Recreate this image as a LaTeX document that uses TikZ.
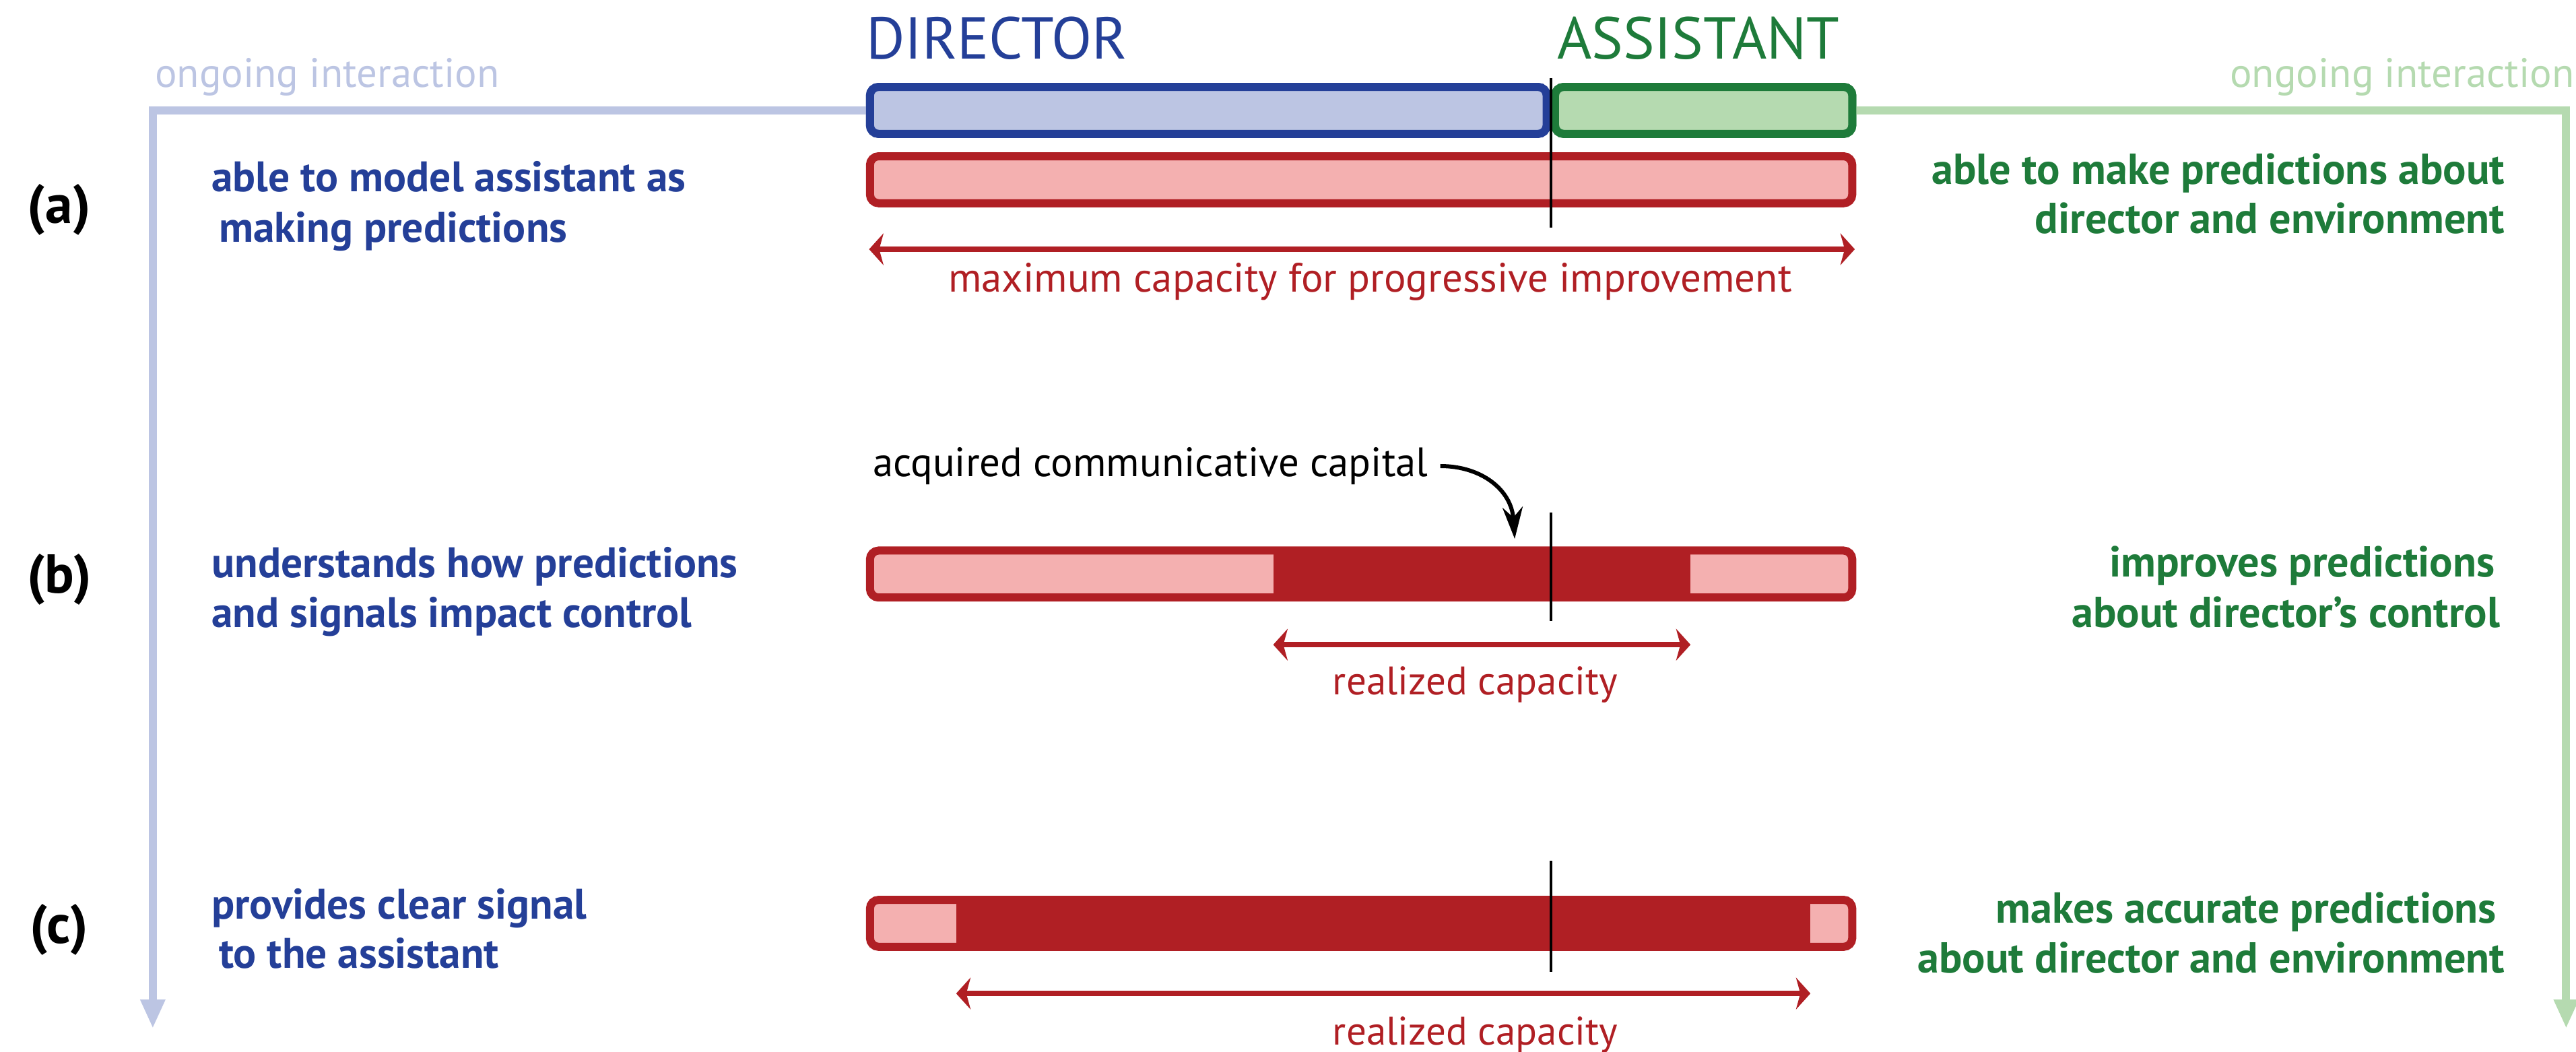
\documentclass[tikz,border=0pt]{standalone}
\usepackage{fontspec}
\setmainfont{PT Sans}
\usetikzlibrary{arrows.meta}
\definecolor{dblue}{RGB}{36,63,152}
\definecolor{lblue}{RGB}{188,197,227}
\definecolor{dgreen}{RGB}{30,123,58}
\definecolor{lgreen}{RGB}{181,218,176}
\definecolor{dred}{RGB}{176,31,36}
\definecolor{lpink}{RGB}{244,176,176}
\tikzset{
  barbox/.style={draw, rounded corners=3pt, line width=2.8pt, inner sep=0pt, outer sep=0pt, minimum height=0.572cm},
  divline/.style={draw=black, line width=0.9pt},
  dimarrow/.style={draw=dred, line width=1.8pt, {Stealth[length=5pt,width=11pt,inset=1.5pt]}-{Stealth[length=5pt,width=11pt,inset=1.5pt]}},
  flowline/.style={line width=2.8pt, -{Triangle[length=10pt,width=8pt]}},
  regtext/.style={inner sep=0pt, font=\fontsize{14.2}{17}\selectfont},
  bluetext/.style={inner sep=0pt, text=dblue, font=\bfseries\fontsize{14.8}{17}\selectfont, anchor=base west},
  greentext/.style={inner sep=0pt, text=dgreen, font=\bfseries\fontsize{15}{17}\selectfont, anchor=base east},
  rowlabel/.style={inner sep=0pt, font=\bfseries\fontsize{19}{21}\selectfont, anchor=base},
  headtext/.style={inner sep=0pt, font=\fontsize{20.5}{24}\selectfont, anchor=base west},
  pointer/.style={line width=1.4pt, shorten <=4pt, -{Stealth[length=11pt,width=7pt]}},
}
\begin{document}
\begin{tikzpicture}[x=0.02cm,y=-0.02cm]
\useasboundingbox (0,0) rectangle (1568,640);
% top bars
\node[barbox, draw=dblue, fill=lblue, minimum width=8.24cm] (dir) at (735.5,67.2) {};
\node[barbox, draw=dgreen, fill=lgreen, minimum width=3.62cm] (ast) at (1037,67.2) {};
% flow lines
\coordinate (ldown) at (93,626);
\coordinate (rdown) at (1562,626);
\draw[flowline, lblue] (dir.west) -| (ldown);
\draw[flowline, lgreen] (ast.east) -| (rdown);
\node[barbox, draw=dblue, fill=lblue, minimum width=8.24cm] at (735.5,67.2) {};
\node[barbox, draw=dgreen, fill=lgreen, minimum width=3.62cm] at (1037,67.2) {};
% headings
\node[headtext, text=dblue] (dirlbl) at (527,36) {DIRECTOR};
\node[headtext, text=dgreen, anchor=base east] (astlbl) at (1120,36) {ASSISTANT};
\node[regtext, text=lblue, anchor=base west] (ongl) at (94,53) {ongoing interaction};
\node[regtext, text=lgreen, anchor=base west] (ongr) at (1357,53) {ongoing interaction};
% row (a)
\node[barbox, draw=dred, fill=lpink, minimum width=11.96cm] (bara) at (828.5,109.4) {};
\draw[divline] (944,47.6) -- (944,138.7);
\coordinate (a1) at (529,151.7);
\coordinate (a2) at (1129,151.7);
\draw[dimarrow] (a1) -- (a2);
\node[regtext, text=dred, anchor=base] (capa) at (834,177.6) {maximum capacity for progressive improvement};
\node[rowlabel] (la) at (36,136) {(a)};
\node[bluetext] (la1) at (128.5,116.5) {able to model assistant as};
\node[bluetext] (la2) at (128.5,147.5) {\hspace{2.5pt}making predictions};
\node[greentext] (ra1) at (1525,112.2) {able to make predictions about};
\node[greentext] (ra2) at (1525,142) {director and environment};
% row (b)
\node[barbox, draw=dred, fill=lpink, minimum width=11.96cm] (barb) at (828.5,349.4) {};
\fill[dred] (775,332.7) rectangle (1029,366);
\draw[divline] (944,312) -- (944,378);
\node[regtext, anchor=base west] (acq) at (531,290) {acquired communicative capital};
\coordinate (acqt) at (922,328);
\draw[pointer] (acq.east) .. controls +(32,0) and +(-2,-30) .. (acqt);
\coordinate (b1) at (775,392.4);
\coordinate (b2) at (1029,392.4);
\draw[dimarrow] (b1) -- (b2);
\node[regtext, text=dred, anchor=base, font=\fontsize{13.8}{17}\selectfont] (capb) at (898,423) {realized capacity};
\node[rowlabel] (lb) at (36,361) {(b)};
\node[bluetext] (lb1) at (128.5,351.5) {understands how predictions};
\node[bluetext] (lb2) at (128.5,382) {and signals impact control};
\node[greentext] (rb1) at (1519,351) {improves predictions};
\node[greentext] (rb2) at (1522,382) {about director's control};
% row (c)
\node[barbox, draw=dred, fill=lpink, minimum width=11.96cm] (barc) at (828.5,562) {};
\fill[dred] (582,545) rectangle (1102,579);
\draw[divline] (944,524) -- (944,591.6);
\coordinate (c1) at (582,604.7);
\coordinate (c2) at (1102,604.7);
\draw[dimarrow] (c1) -- (c2);
\node[regtext, text=dred, anchor=base, font=\fontsize{13.8}{17}\selectfont] (capc) at (898,636) {realized capacity};
\node[rowlabel] (lc) at (36,574) {(c)};
\node[bluetext] (lc1) at (128.5,559.4) {provides clear signal};
\node[bluetext] (lc2) at (128.5,589.2) {\hspace{2.5pt}to the assistant};
\node[greentext] (rc1) at (1520,562) {makes accurate predictions};
\node[greentext] (rc2) at (1525,592) {about director and environment};
\end{tikzpicture}
\end{document}
